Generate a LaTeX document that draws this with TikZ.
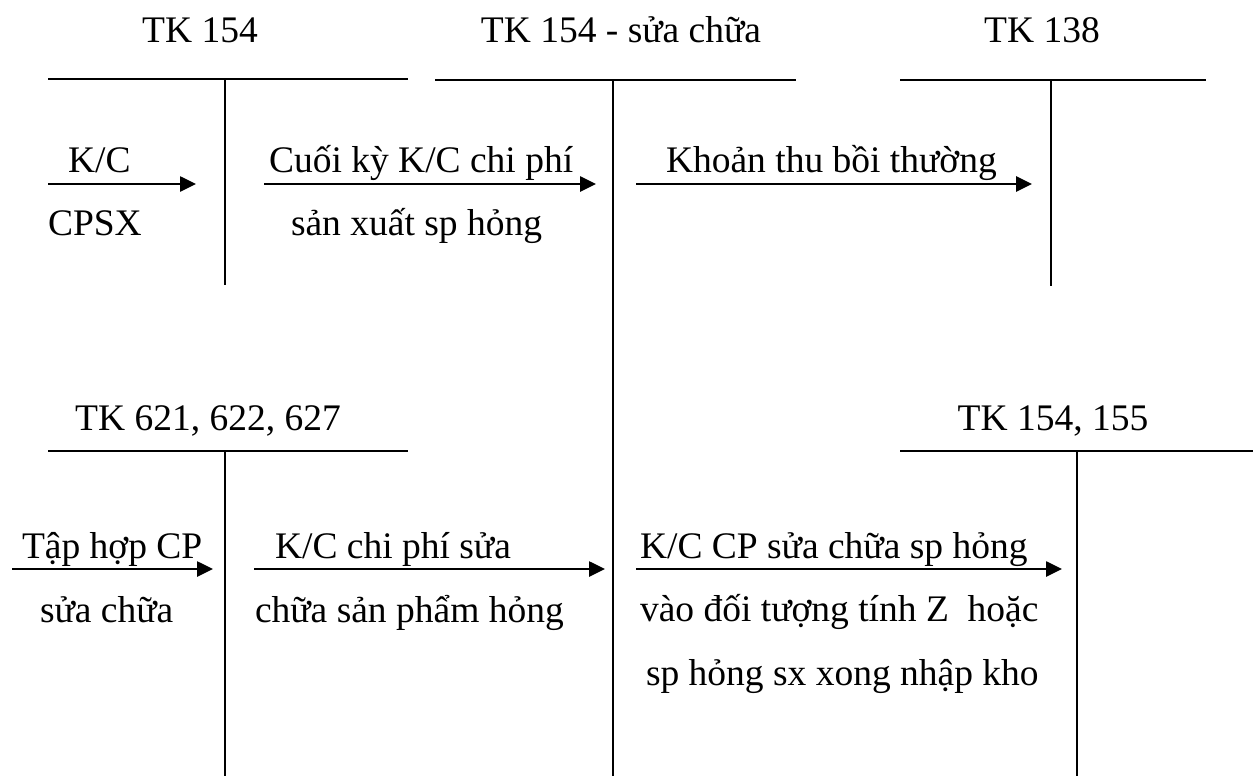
\documentclass[tikz,border=0pt]{standalone}
\usepackage{fontspec}
\setmainfont{Liberation Serif}
\usetikzlibrary{arrows.meta}
\begin{document}
\begin{tikzpicture}[x=1pt,y=-1pt,
  lbl/.style={anchor=base west,inner sep=0pt,outer sep=0pt,font=\fontsize{37.5}{45}\selectfont},
  ttl/.style={anchor=base,inner sep=0pt,outer sep=0pt,font=\fontsize{37.5}{45}\selectfont},
  tline/.style={line width=2pt},
  flow/.style={line width=2.6pt,-{Triangle[length=16pt,width=15pt]}}]
\useasboundingbox (0,0) rectangle (1253,776);
% T-accounts
\node[ttl] (t1) at (200,43) {TK 154};
\draw[tline] (48,79) -- (408,79) (225,79) -- (225,285);
\node[ttl] (t2) at (621,43) {TK 154 - sửa chữa};
\draw[tline] (435,80) -- (796,80) (613,80) -- (613,776);
\node[ttl] (t3) at (1042,43) {TK 138};
\draw[tline] (900,80) -- (1206,80) (1051,80) -- (1051,286);
\node[ttl] (t4) at (208,430) {TK 621, 622, 627};
\draw[tline] (48,451) -- (408,451) (225,451) -- (225,776);
\node[ttl] (t5) at (1053,430) {TK 154, 155};
\draw[tline] (900,451) -- (1253,451) (1077,451) -- (1077,776);
% arrows
\coordinate (a1s) at (48,184); \coordinate (a1e) at (196,184);
\coordinate (a2s) at (264,184); \coordinate (a2e) at (596,184);
\coordinate (a3s) at (636,184); \coordinate (a3e) at (1032,184);
\coordinate (a4s) at (12,569); \coordinate (a4e) at (213,569);
\coordinate (a5s) at (254,569); \coordinate (a5e) at (605,569);
\coordinate (a6s) at (636,569); \coordinate (a6e) at (1062,569);
\draw[flow] (a1s) -- (a1e);
\draw[flow] (a2s) -- (a2e);
\draw[flow] (a3s) -- (a3e);
\draw[flow] (a4s) -- (a4e);
\draw[flow] (a5s) -- (a5e);
\draw[flow] (a6s) -- (a6e);
% labels
\node[lbl] (l1) at (68,172) {K/C};
\node[lbl] (l2) at (48,235) {CPSX};
\node[lbl] (l3) at (269,172) {Cuối kỳ K/C chi phí};
\node[lbl] (l4) at (291,235) {sản xuất sp hỏng};
\node[lbl] (l5) at (666,172) {Khoản thu bồi thường};
\node[lbl] (l6) at (22,558) {Tập hợp CP};
\node[lbl] (l7) at (40,622) {sửa chữa};
\node[lbl] (l8) at (275,558) {K/C chi phí sửa};
\node[lbl] (l9) at (255,622) {chữa sản phẩm hỏng};
\node[lbl] (l10) at (640,558) {K/C CP sửa chữa sp hỏng};
\node[lbl] (l11) at (640,621) {vào đối tượng tính Z\ \ hoặc};
\node[lbl] (l12) at (646,685) {sp hỏng sx xong nhập kho};
\end{tikzpicture}
\end{document}
